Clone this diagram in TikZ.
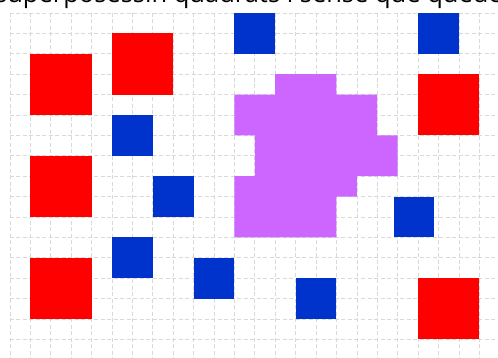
\documentclass[tikz,border=0pt]{standalone}
\usepackage{fontspec}
\setmainfont{Open Sans}
\usepackage{tikz}
\definecolor{sqred}{RGB}{255,0,0}
\definecolor{sqblue}{RGB}{0,51,204}
\definecolor{sqpurple}{RGB}{204,102,255}

\begin{document}
\begin{tikzpicture}[x=20.4pt, y=-20.4pt,
    gridline/.style={gray!30, line width=0.6pt, dash pattern=on 4pt off 2.5pt},
    bigsq/.style={fill=sqred},
    smallsq/.style={fill=sqblue},
    blob/.style={fill=sqpurple}
]
\useasboundingbox (-0.49,-0.637) rectangle (23.922,16.912);

% background grid
\foreach \i in {0,...,24} \draw[gridline] (\i,0) -- (\i,17);
\foreach \j in {0,...,17} \draw[gridline] (0,\j) -- (24.5,\j);

% caption line, cut off at the top
\node[anchor=base west, inner sep=0pt, font=\fontsize{25.5}{30}\selectfont] (caption) at (-0.74,-0.52) {superposessin quadrats i sense que quedes};

% red squares (3x3)
\foreach \x/\y in {1/2, 5/1, 20/3, 1/7, 1/12, 20/13}
    \fill[bigsq] (\x,\y) rectangle ++(3,3);

% blue squares (2x2)
\foreach \x/\y in {11/0, 20/0, 5/5, 7/8, 5/11, 9/12, 18.8/9, 14/13}
    \fill[smallsq] (\x,\y) rectangle ++(2,2);

% purple shape
\fill[blob] (13,3) -- (16,3) -- (16,4) -- (18,4) -- (18,6) -- (19,6) -- (19,8)
    -- (17,8) -- (17,9) -- (16,9) -- (16,11) -- (11,11) -- (11,8) -- (12,8)
    -- (12,6) -- (11,6) -- (11,4) -- (13,4) -- cycle;
\end{tikzpicture}
\end{document}
